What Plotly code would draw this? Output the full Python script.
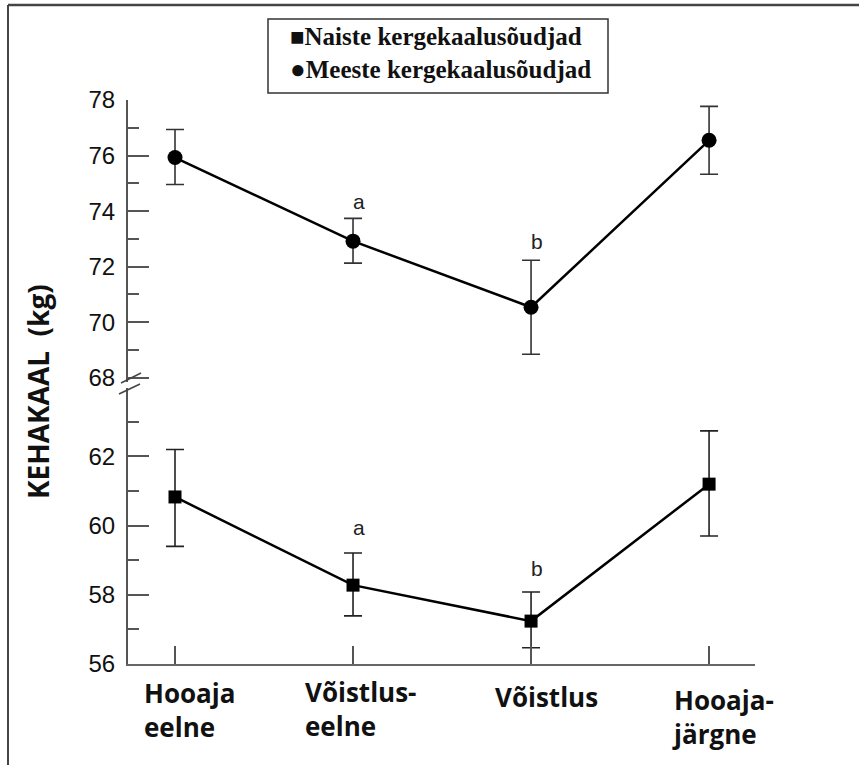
import plotly.graph_objects as go

# ---------------- data ----------------
categories = ["Hooaja eelne", "Võistlus-eelne", "Võistlus", "Hooaja-järgne"]
tick_labels = ["Hooaja<br>eelne", "Võistlus-<br>eelne", "Võistlus", "Hooaja-<br>järgne"]

men_mean = [75.93, 72.92, 70.54, 76.55]
men_upper = [76.94, 73.74, 72.23, 77.77]
men_lower = [74.96, 72.13, 68.85, 75.33]

women_mean = [60.83, 58.28, 57.24, 61.20]
women_upper = [62.20, 59.21, 58.08, 62.74]
women_lower = [59.40, 57.39, 56.47, 59.70]

sig_labels = ["", "a", "b", ""]

series_names = ["Naiste kergekaalusõudjad", "Meeste kergekaalusõudjad"]
y_title = "KEHAKAAL\u00a0\u00a0(kg)"

# ---------------- layout geometry (pixels) ----------------
W, H = 859, 765
L, R, T, B = 128, 104, 100, 101
PW, PH = W - L - R, H - T - B


def px(xp):
    return (xp - L) / PW


def py(yp):
    return (H - B - yp) / PH


xi = list(range(len(categories)))

fig = go.Figure()

fig.add_trace(go.Scatter(
    x=xi, y=men_mean, xaxis="x", yaxis="y2", mode="lines+markers",
    name=series_names[1], showlegend=False,
    line=dict(color="black", width=2.5),
    marker=dict(symbol="circle", size=15, color="black"),
    error_y=dict(type="data", symmetric=False,
                 array=[u - m for u, m in zip(men_upper, men_mean)],
                 arrayminus=[m - l for m, l in zip(men_mean, men_lower)],
                 color="#333333", thickness=1.6, width=9),
))

fig.add_trace(go.Scatter(
    x=xi, y=women_mean, xaxis="x", yaxis="y", mode="lines+markers",
    name=series_names[0], showlegend=False,
    line=dict(color="black", width=2.5),
    marker=dict(symbol="square", size=13, color="black"),
    error_y=dict(type="data", symmetric=False,
                 array=[u - m for u, m in zip(women_upper, women_mean)],
                 arrayminus=[m - l for m, l in zip(women_mean, women_lower)],
                 color="#222222", thickness=1.6, width=9),
))

axis_font = dict(family="Liberation Sans, Arial, sans-serif", size=24, color="#111111")

annotations = []
# significance letters
top_shift = {1: 17, 2: 19}
bot_shift = {1: 25, 2: 24}
sig_font = dict(family="Liberation Sans, Arial", size=21, color="#222")
for i, s in enumerate(sig_labels):
    if s:
        annotations.append(dict(x=i, y=men_upper[i], xref="x", yref="y2", text=s,
                                showarrow=False, xshift=6, yshift=top_shift[i], font=sig_font))
        annotations.append(dict(x=i, y=women_upper[i], xref="x", yref="y", text=s,
                                showarrow=False, xshift=6, yshift=bot_shift[i], font=sig_font))

# category labels
label_left = [142, 303, 493, 670]
label_top = [673, 672, 677, 680]
cat_px = [175, 353, 531, 709]
for i, t in enumerate(tick_labels):
    annotations.append(dict(x=i, xref="x", y=py(label_top[i]), yref="paper",
                            xanchor="left", yanchor="top", align="left",
                            xshift=label_left[i] - cat_px[i], text=t, showarrow=False,
                            font=dict(family="Open Sans, sans-serif", size=26, color="#111111",
                                      weight="bold")))

# y-axis title
annotations.append(dict(x=px(38), y=py(392), xref="paper", yref="paper", text=y_title,
                        textangle=-90, showarrow=False, xanchor="center", yanchor="middle",
                        font=dict(family="Open Sans, sans-serif", size=28, color="#111111",
                                  weight="bold")))

# legend (two text entries inside a framed box)
leg_font = dict(family="Liberation Serif, Times New Roman, serif", size=25, color="#111111",
                weight="bold")
leg_text = ("<span style='font-size:24px'>■</span>" + series_names[0] + "<br>"
            + "<span style='font-size:26px'>●</span>" + series_names[1])
annotations.append(dict(x=px(288), y=py(53), xref="paper", yref="paper", text=leg_text,
                        xanchor="left", yanchor="middle", align="left", showarrow=False,
                        font=leg_font))

shapes = [
    # legend frame
    dict(type="rect", xref="paper", yref="paper", x0=px(268), x1=px(608), y0=py(93), y1=py(19),
         line=dict(color="#333333", width=1.5), fillcolor="rgba(0,0,0,0)"),
    # outer frame (left and top)
    dict(type="line", xref="paper", yref="paper", x0=px(8), x1=px(8), y0=py(5), y1=py(780),
         line=dict(color="#444444", width=2)),
    dict(type="line", xref="paper", yref="paper", x0=px(8), x1=px(870), y0=py(5), y1=py(5),
         line=dict(color="#444444", width=2.5)),
    # axis break marks
    dict(type="line", xref="paper", yref="paper", x0=px(121), x1=px(141), y0=py(383), y1=py(373),
         line=dict(color="#444444", width=1.5)),
    dict(type="line", xref="paper", yref="paper", x0=px(119), x1=px(140), y0=py(394), y1=py(384),
         line=dict(color="#444444", width=1.5)),
]

common_y = dict(showline=True, linecolor="#555555", linewidth=2, ticks="inside", ticklen=21,
                tickwidth=2, tickcolor="#555555", dtick=2, tick0=0, showgrid=False,
                zeroline=False, tickfont=axis_font, ticklabelstandoff=6,
                minor=dict(ticks="inside", ticklen=11, tickwidth=2, tickcolor="#555555",
                           dtick=1, tick0=0, showgrid=False))

fig.update_layout(
    width=W, height=H,
    margin=dict(l=L, r=R, t=T, b=B),
    paper_bgcolor="white", plot_bgcolor="white",
    showlegend=False,
    xaxis=dict(range=[-0.264, 3.258], showline=True, linecolor="#666666", linewidth=2,
               tickvals=xi, ticktext=[""] * len(xi), ticks="inside", ticklen=18,
               tickwidth=2, tickcolor="#555555", showgrid=False, zeroline=False,
               anchor="y", fixedrange=True),
    yaxis=dict(domain=[0, py(388)], range=[56, 63.98], anchor="x", **common_y),
    yaxis2=dict(domain=[py(382), 1], range=[67.85, 78], anchor="x", **common_y),
    annotations=annotations,
    shapes=shapes,
)

fig.write_html(
    "out.html",
    config={"displayModeBar": False},
    post_script="document.body.style.margin='0';document.body.style.overflow='hidden';",
)
